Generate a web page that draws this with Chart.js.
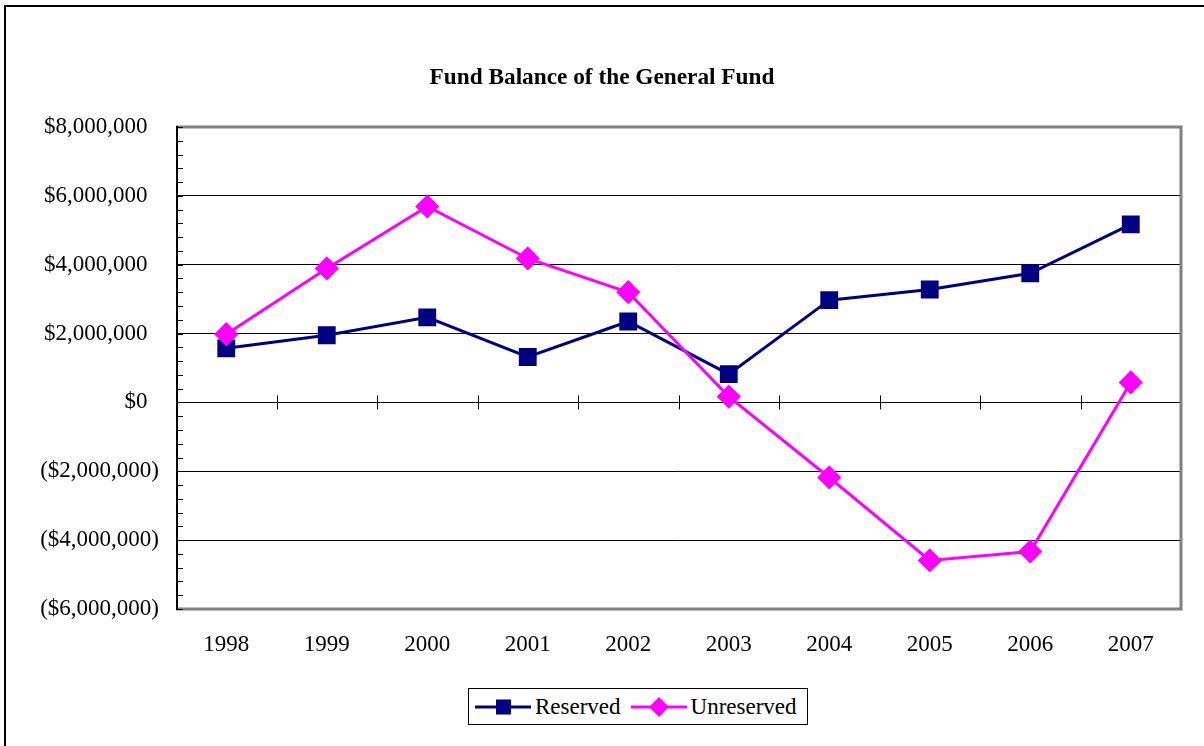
<!DOCTYPE html>
<html>
<head>
<meta charset="utf-8">
<script src="https://cdn.jsdelivr.net/npm/chart.js@4"></script>
<style>
  html, body { margin: 0; padding: 0; background: #fff; overflow: hidden; }
  #frame { position: absolute; left: 4px; top: 5px; width: 1220px; height: 760px; border: 2px solid #000; box-sizing: border-box; }
  #wrap { position: absolute; left: 0; top: 0; width: 1204px; height: 746px; }
  #legend { position: absolute; left: 468px; top: 688px; width: 340px; height: 37px; box-sizing: border-box;
            border: 1px solid #000; background: #fff; display: flex; align-items: center; padding-left: 6px;
            font-family: "Liberation Serif", "Times New Roman", serif; font-size: 23px; color: #000; }
  #legend .item { display: flex; align-items: center; }
  #legend .item + .item { margin-left: 10px; }
  #legend svg { display: block; margin-right: 4px; }
</style>
</head>
<body>
<div id="frame"></div>
<div id="wrap">
  <canvas id="chart" width="1204" height="746"></canvas>
  <div id="legend"></div>
</div>
<script>
(function () {
  'use strict';

  const years = ['1998', '1999', '2000', '2001', '2002', '2003', '2004', '2005', '2006', '2007'];
  const reserved   = [1570000, 1950000, 2470000, 1320000, 2350000, 820000, 2970000, 3280000, 3750000, 5170000];
  const unreserved = [1980000, 3890000, 5690000, 4180000, 3200000, 170000, -2180000, -4590000, -4330000, 580000];
  const yMin = -6000000, yMax = 8000000, yStep = 2000000, yMinor = 400000;

  const FONT = '"Liberation Serif", "Times New Roman", serif';
  const NAVY = '#000080', MAGENTA = '#FF00FF';

  const fmt = v => {
    const s = '$' + Math.abs(v).toLocaleString('en-US');
    return v < 0 ? '(' + s + ')' : s + '  ';
  };

  // plot frame, minor y ticks, category ticks on the zero line
  const framePlugin = {
    id: 'excelFrame',
    afterDraw(ci) {
      const { ctx, chartArea: a, scales: { x, y } } = ci;
      ctx.save();
      ctx.strokeStyle = '#808080';
      ctx.lineWidth = 3;
      ctx.beginPath();
      ctx.moveTo(a.left, a.top);
      ctx.lineTo(a.right, a.top);
      ctx.lineTo(a.right, a.bottom);
      ctx.lineTo(a.left, a.bottom);
      ctx.stroke();

      ctx.strokeStyle = '#000';
      ctx.lineWidth = 2;
      ctx.beginPath();
      ctx.moveTo(a.left + 1, a.top - 1);
      ctx.lineTo(a.left + 1, a.bottom + 1);
      ctx.stroke();

      ctx.lineWidth = 1;
      ctx.beginPath();
      for (let v = yMin; v <= yMax; v += yMinor) {
        const py = Math.round(y.getPixelForValue(v)) + 0.5;
        ctx.moveTo(a.left, py);
        ctx.lineTo(a.left + 7, py);
      }
      const zy = y.getPixelForValue(0);
      for (let i = 1; i < years.length; i++) {
        const px = Math.round((x.getPixelForValue(i - 1) + x.getPixelForValue(i)) / 2) + 0.5;
        ctx.moveTo(px, zy - 7);
        ctx.lineTo(px, zy + 7);
      }
      ctx.stroke();
      ctx.restore();
    }
  };

  const chart = new Chart(document.getElementById('chart').getContext('2d'), {
    type: 'line',
    data: {
      labels: years,
      datasets: [
        { label: 'Reserved', data: reserved, order: 1, borderColor: NAVY, backgroundColor: NAVY,
          borderWidth: 3, pointStyle: 'rect', pointRadius: 10.5, pointHoverRadius: 10.5, tension: 0 },
        { label: 'Unreserved', data: unreserved, order: 0, borderColor: MAGENTA, backgroundColor: MAGENTA,
          borderWidth: 3, pointStyle: 'rectRot', pointRadius: 10, pointHoverRadius: 10, tension: 0 }
      ]
    },
    options: {
      responsive: false,
      animation: false,
      devicePixelRatio: 1,
      layout: { padding: 0 },
      plugins: {
        legend: { display: false },
        tooltip: { enabled: false },
        title: {
          display: true,
          text: 'Fund Balance of the General Fund',
          color: '#000',
          font: { family: FONT, size: 23.3, weight: 'bold', lineHeight: 1.2 },
          padding: { top: 64, bottom: 35 }
        }
      },
      scales: {
        x: {
          offset: true,
          grid: { display: false, drawTicks: false },
          border: { display: false },
          ticks: { color: '#000', padding: 22, font: { family: FONT, size: 23 } },
          afterFit(s) { s.height = 137; }
        },
        y: {
          min: yMin,
          max: yMax,
          grid: { color: '#000', lineWidth: 1, drawTicks: false },
          border: { display: false },
          ticks: { stepSize: yStep, color: '#000', padding: 17, font: { family: FONT, size: 23 },
                   callback: v => fmt(v) },
          afterFit(s) { s.width = 176; }
        },
        // empty right margin so the title stays centred on the page
        yRight: {
          position: 'right',
          min: yMin,
          max: yMax,
          grid: { display: false, drawTicks: false },
          border: { display: false },
          ticks: { display: false },
          afterFit(s) { s.width = 23; }
        }
      }
    },
    plugins: [framePlugin]
  });

  // legend box built from the datasets
  const legend = document.getElementById('legend');
  chart.data.datasets.forEach(ds => {
    const item = document.createElement('div');
    item.className = 'item';
    const mark = ds.pointStyle === 'rect'
      ? '<rect x="21" y="2.5" width="15" height="15" fill="' + ds.borderColor + '"/>'
      : '<polygon points="28,0 38,10 28,20 18,10" fill="' + ds.borderColor + '"/>';
    item.innerHTML = '<svg width="56" height="20"><line x1="0" y1="10" x2="56" y2="10" stroke="' +
      ds.borderColor + '" stroke-width="3"/>' + mark + '</svg><span>' + ds.label + '</span>';
    legend.appendChild(item);
  });
})();
</script>
</body>
</html>
